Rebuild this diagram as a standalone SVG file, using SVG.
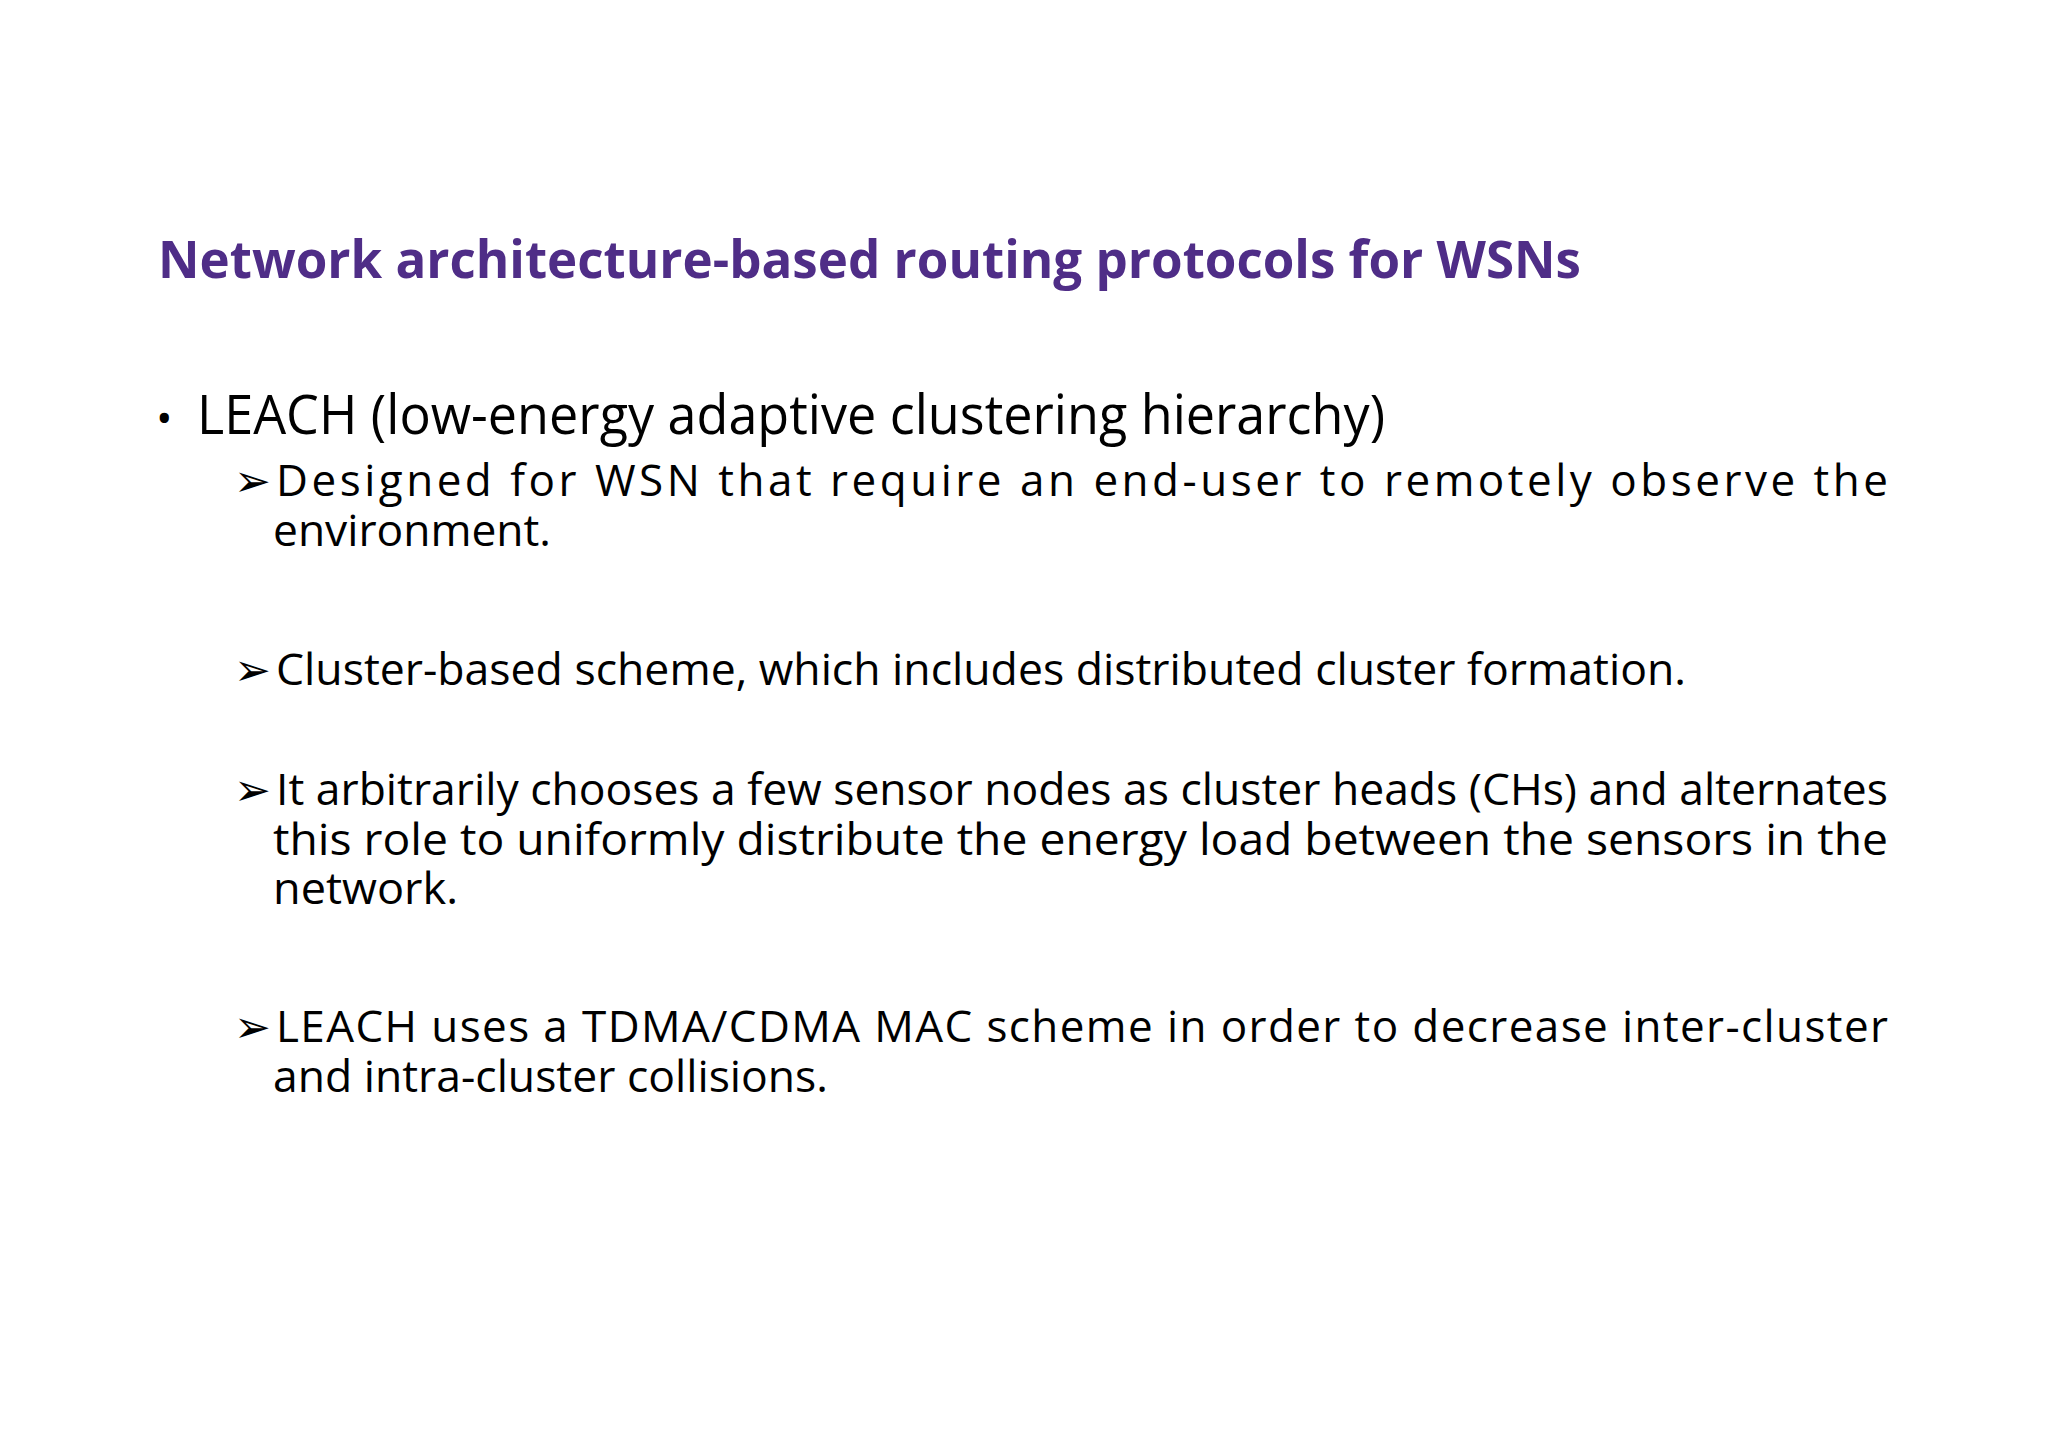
<svg xmlns="http://www.w3.org/2000/svg" width="2048" height="1447" viewBox="0 0 2048 1447">
<style>
.t{font-family:"Open Sans","Liberation Sans",sans-serif;font-size:44px;fill:#000}
.a{font-family:"DejaVu Sans",sans-serif;font-size:44px;font-weight:bold;fill:#000}
</style>
<rect width="2048" height="1447" fill="#fff"/>
<g id="title"><text x="158" y="278" font-family="Open Sans, Liberation Sans, sans-serif" font-weight="bold" font-size="52" fill="#4f2d87" textLength="1423" lengthAdjust="spacingAndGlyphs">Network architecture-based routing protocols for WSNs</text></g>
<g id="b1"><text x="156" y="434" class="t" font-size="54">•</text>
<text x="197" y="434" class="t" style="font-size:54px" textLength="1188" lengthAdjust="spacingAndGlyphs">LEACH (low-energy adaptive clustering hierarchy)</text></g>
<g id="s1"><text x="234" y="496" class="a">➢</text>
<text x="276" y="496" class="t" textLength="1612" lengthAdjust="spacing">Designed for WSN that require an end-user to remotely observe the</text>
<text x="273" y="546" class="t" textLength="278" lengthAdjust="spacingAndGlyphs">environment.</text></g>
<g id="s2"><text x="234" y="685" class="a">➢</text>
<text x="276" y="685" class="t" textLength="1410" lengthAdjust="spacingAndGlyphs">Cluster-based scheme, which includes distributed cluster formation.</text></g>
<g id="s3"><text x="234" y="805" class="a">➢</text>
<text x="276" y="805" class="t" textLength="1612" lengthAdjust="spacingAndGlyphs">It arbitrarily chooses a few sensor nodes as cluster heads (CHs) and alternates</text>
<text x="273" y="855" class="t" textLength="1615" lengthAdjust="spacingAndGlyphs">this role to uniformly distribute the energy load between the sensors in the</text>
<text x="273" y="904" class="t" textLength="185" lengthAdjust="spacingAndGlyphs">network.</text></g>
<g id="s4"><text x="234" y="1042" class="a">➢</text>
<text x="276" y="1042" class="t" textLength="1612" lengthAdjust="spacing">LEACH uses a TDMA/CDMA MAC scheme in order to decrease inter-cluster</text>
<text x="273" y="1092" class="t" textLength="555" lengthAdjust="spacingAndGlyphs">and intra-cluster collisions.</text></g>
<g id="connectors"/>
</svg>
